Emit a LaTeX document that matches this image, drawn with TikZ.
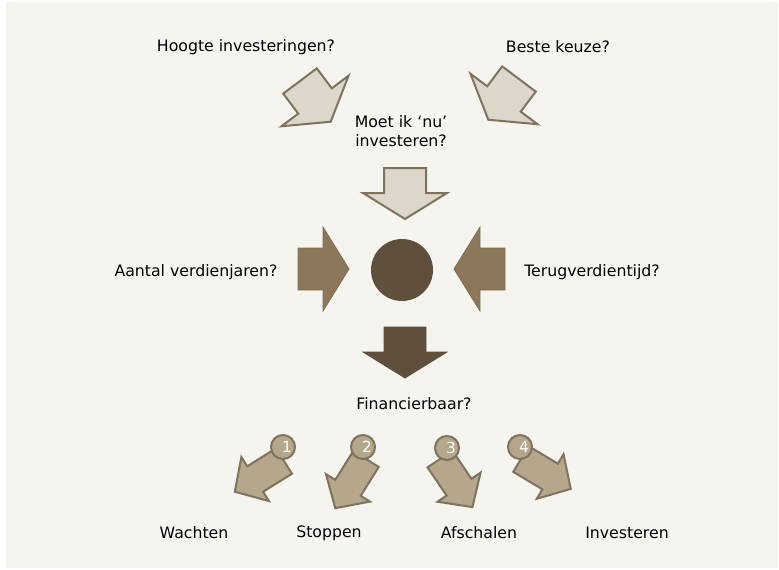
\documentclass[tikz,border=0pt]{standalone}
\usepackage{fontspec}
\setmainfont{DejaVu Sans}
\definecolor{paper}{HTML}{F5F4EF}
\definecolor{lightfill}{HTML}{DDD6CB}
\definecolor{edge}{HTML}{7F735F}
\definecolor{midfill}{HTML}{8B775A}
\definecolor{darkfill}{HTML}{5E503C}
\definecolor{smallfill}{HTML}{B5A78B}

\newcommand{\bigarrow}[3]{\draw[#1, shift={#2}, rotate=#3] (0,-21) -- (25,-21) -- (25,-42) -- (51,0) -- (25,42) -- (25,21) -- (0,21) -- cycle;}
\newcommand{\smallarrow}[2]{\draw[small arrow, shift={#1}, rotate=#2] (0,-15) -- (34,-15) -- (34,-26) -- (58,0) -- (34,26) -- (34,15) -- (0,15) -- cycle;}

\begin{document}
\begin{tikzpicture}[x=0.75pt,y=-0.75pt,
  question/.style={font=\fontsize{11.8}{14.3}\selectfont, align=center, inner sep=0pt},
  light arrow/.style={fill=lightfill, draw=edge, line width=1.5pt},
  mid arrow/.style={fill=midfill, draw=midfill!92!black, line width=0.6pt},
  dark arrow/.style={fill=darkfill, draw=darkfill, line width=0.6pt},
  small arrow/.style={fill=smallfill, draw=edge, line width=1.5pt},
  num node/.style={circle, fill=smallfill, draw=edge, line width=1.5pt, minimum size=18pt, inner sep=0pt},
  num text/.style={text=white, font=\fontsize{11.5}{12}\selectfont, inner sep=0pt}]
  \useasboundingbox (0,0) rectangle (779,569);
  \fill[paper] (6,2) rectangle (778,568);

  \node[question] (hoogte) at (246,47) {Hoogte investeringen?};
  \node[question] (beste) at (558,47) {Beste keuze?};
  \node[question] (moet) at (401,131) {Moet ik `nu'\\investeren?};
  \node[question] (aantal) at (196,272) {Aantal verdienjaren?};
  \node[question] (terug) at (592,272) {Terugverdientijd?};
  \node[question] (fin) at (414,404) {Financierbaar?};
  \node[question] (wachten) at (194,533) {Wachten};
  \node[question] (stoppen) at (329,533) {Stoppen};
  \node[question] (afschalen) at (479,533) {Afschalen};
  \node[question] (investeren) at (627,533) {Investeren};

  \bigarrow{light arrow}{(300,81)}{-53}
  \bigarrow{light arrow}{(519,79)}{233}
  \bigarrow{light arrow}{(405,168)}{-90}
  \bigarrow{mid arrow}{(298,269)}{0}
  \bigarrow{mid arrow}{(505,269)}{180}
  \bigarrow{dark arrow}{(405,327)}{-90}

  \node[circle, fill=darkfill, minimum size=46.5pt, inner sep=0pt] (kern) at (402,270) {};

  \smallarrow{(284,461)}{212}
  \smallarrow{(366,459)}{238}
  \smallarrow{(440,459)}{-56}
  \smallarrow{(521,459)}{-31}

  \node[num node] (c1) at (283,447) {};
  \node[num node] (c2) at (363,447) {};
  \node[num node] (c3) at (447,448) {};
  \node[num node] (c4) at (520,447) {};
  \node[num text] (t1) at ([xshift=3pt]c1) {1};
  \node[num text] (t2) at ([xshift=3pt]c2) {2};
  \node[num text] (t3) at ([xshift=3pt]c3) {3};
  \node[num text] (t4) at ([xshift=3pt]c4) {4};
\end{tikzpicture}
\end{document}
